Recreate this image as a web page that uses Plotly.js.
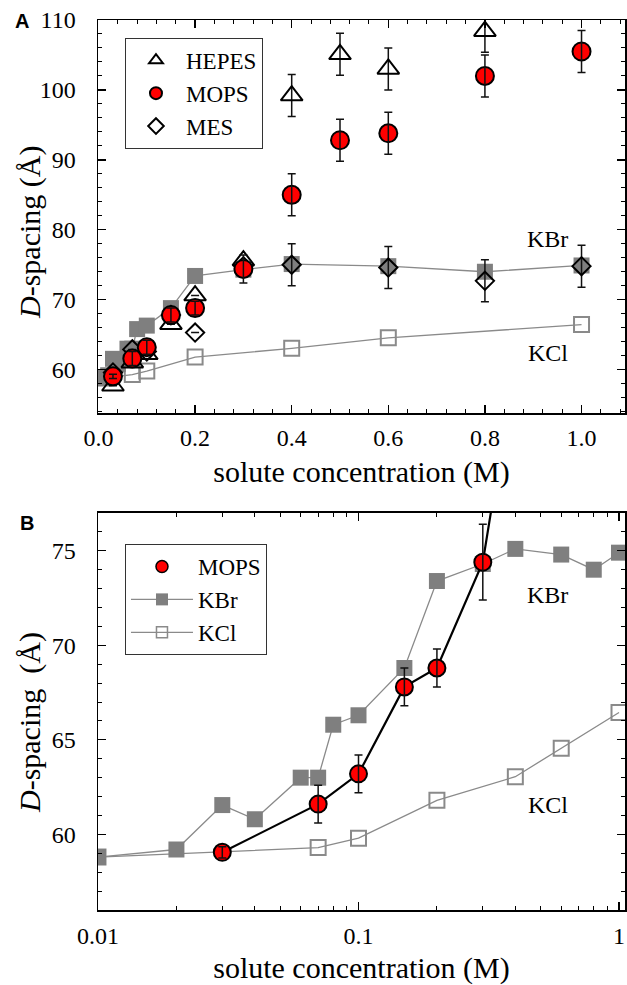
<!DOCTYPE html>
<html>
<head>
<meta charset="utf-8">
<script src="https://cdn.plot.ly/plotly-3.0.1.min.js"></script>
<style>html,body{margin:0;padding:0;background:#fff;}#chart{width:627px;height:985px;}</style>
</head>
<body>
<div id="chart"></div>
<script>
// ---- data ----
const hepesX = [0.03, 0.07, 0.1, 0.15, 0.2, 0.3, 0.4, 0.5, 0.6, 0.8];
const hepesY = [57.7, 61.0, 62.2, 66.5, 70.6, 75.6, 99.2, 105.1, 103.0, 108.4];
const hepesErr = [0, 0, 0, 0, 0, 0, 3, 3, 3, 3];

const mopsX = [0.03, 0.07, 0.1, 0.15, 0.2, 0.3, 0.4, 0.5, 0.6, 0.8, 1.0];
const mopsY = [59.05, 61.6, 63.2, 67.8, 68.8, 74.4, 85.0, 92.8, 93.8, 102.0, 105.5];
const mopsErr = [0.3, 1, 1, 1, 1, 2, 3, 3, 3, 3, 3];

const mesX = [0.03, 0.07, 0.1, 0.15, 0.2, 0.3, 0.4, 0.6, 0.8, 1.0];
const mesY = [59.6, 62.9, 62.6, 67.8, 65.3, 74.8, 75.0, 74.6, 72.7, 74.8];
const mesErr = [0, 0, 0, 0, 0, 0, 3, 3, 3, 3];

const kbrX = [0.01, 0.02, 0.03, 0.04, 0.06, 0.07, 0.08, 0.1, 0.15, 0.2, 0.3, 0.4, 0.6, 0.8, 1.0];
const kbrY = [58.8, 59.2, 61.55, 60.8, 63.0, 63.0, 65.8, 66.3, 68.8, 73.4, 74.3, 75.1, 74.8, 74.0, 74.9];

const kclX = [0.01, 0.07, 0.1, 0.2, 0.4, 0.6, 1.0];
const kclY = [58.8, 59.3, 59.8, 61.8, 63.05, 64.55, 66.45];

const xTicksA = [0, 0.2, 0.4, 0.6, 0.8, 1.0];
const xTicksB = [0.01, 0.1, 1];
const xTickTextB = ['0.01', '0.1', '1'];
const xMinorB = [0.02,0.03,0.04,0.05,0.06,0.07,0.08,0.09,0.2,0.3,0.4,0.5,0.6,0.7,0.8,0.9];

// ---- styling ----
const serif = 'Liberation Serif, Times New Roman, serif';
const grayLine = '#8a8a8a';
const grayFill = '#7f7f7f';
const errStyle = (arr) => ({type: 'data', array: arr, visible: true, color: '#111', thickness: 1.5, width: 4});
const noMark = {color: 'rgba(0,0,0,0)', size: 2, line: {width: 0}};

const traces = [
  // Panel A
  {x: kclX, y: kclY, xaxis: 'x', yaxis: 'y', mode: 'lines+markers', showlegend: false,
   line: {color: grayLine, width: 1.3},
   marker: {symbol: 'square-open', size: 15, color: grayLine, line: {width: 2, color: grayLine}}},
  {x: kbrX, y: kbrY, xaxis: 'x', yaxis: 'y', mode: 'lines+markers', showlegend: false,
   line: {color: grayLine, width: 1.3},
   marker: {symbol: 'square', size: 16, color: grayFill, line: {width: 0}}},
  {x: hepesX, y: hepesY, xaxis: 'x', yaxis: 'y', mode: 'markers', name: 'HEPES', legend: 'legend', legendrank: 1,
   marker: {symbol: 'triangle-up-open', size: 19, color: '#000', line: {width: 2, color: '#000'}},
   error_y: errStyle(hepesErr)},
  {x: mesX, y: mesY, xaxis: 'x', yaxis: 'y', mode: 'markers', name: 'MES', legend: 'legend', legendrank: 3,
   marker: {symbol: 'diamond-open', size: 14, color: '#000', line: {width: 2, color: '#000'}},
   error_y: errStyle(mesErr)},
  {x: mopsX, y: mopsY, xaxis: 'x', yaxis: 'y', mode: 'markers', name: 'MOPS', legend: 'legend', legendrank: 2,
   marker: {symbol: 'circle', size: 18, color: '#ff0000', line: {width: 2, color: '#000'}}},
  {x: mopsX, y: mopsY, xaxis: 'x', yaxis: 'y', mode: 'markers', showlegend: false, hoverinfo: 'skip',
   marker: noMark, error_y: errStyle(mopsErr)},
  // Panel B
  {x: kclX, y: kclY, xaxis: 'x2', yaxis: 'y2', mode: 'lines+markers', showlegend: false,
   line: {color: grayLine, width: 1.3},
   marker: {symbol: 'square-open', size: 15, color: grayLine, line: {width: 2, color: grayLine}}},
  {x: kbrX, y: kbrY, xaxis: 'x2', yaxis: 'y2', mode: 'lines+markers', showlegend: false,
   line: {color: grayLine, width: 1.3},
   marker: {symbol: 'square', size: 16, color: grayFill, line: {width: 0}}},
  {x: mopsX, y: mopsY, xaxis: 'x2', yaxis: 'y2', mode: 'lines', showlegend: false,
   line: {color: '#000', width: 2.2}},
  {x: mopsX, y: mopsY, xaxis: 'x2', yaxis: 'y2', mode: 'markers', showlegend: false,
   marker: {symbol: 'circle', size: 17, color: '#ff0000', line: {width: 2, color: '#000'}}},
  {x: mopsX, y: mopsY, xaxis: 'x2', yaxis: 'y2', mode: 'markers', showlegend: false, hoverinfo: 'skip',
   marker: noMark, error_y: errStyle(mopsErr)},
  // Panel B legend entries (same series, legend-sized symbols)
  {x: [null], y: [null], xaxis: 'x2', yaxis: 'y2', mode: 'markers', name: 'MOPS', legend: 'legend2', legendrank: 1,
   marker: {symbol: 'circle', size: 12, color: '#ff0000', line: {width: 1.5, color: '#000'}}},
  {x: [null], y: [null], xaxis: 'x2', yaxis: 'y2', mode: 'lines+markers', name: 'KBr', legend: 'legend2', legendrank: 2,
   line: {color: grayLine, width: 1.3},
   marker: {symbol: 'square', size: 12, color: grayFill, line: {width: 0}}},
  {x: [null], y: [null], xaxis: 'x2', yaxis: 'y2', mode: 'lines+markers', name: 'KCl', legend: 'legend2', legendrank: 3,
   line: {color: grayLine, width: 1.3},
   marker: {symbol: 'square-open', size: 11, color: grayLine, line: {width: 1.5, color: grayLine}}}
];

const axisCommon = {
  showline: true, linecolor: '#000', linewidth: 1.5, mirror: 'allticks',
  ticks: 'inside', ticklen: 8, tickwidth: 1.3, tickcolor: '#000',
  showgrid: false, zeroline: false,
  tickfont: {family: serif, size: 24, color: '#000'}
};
const minorCommon = {ticks: 'inside', ticklen: 4, tickwidth: 1, tickcolor: '#000', showgrid: false};

const legendCommon = {
  xanchor: 'left', yanchor: 'top', bgcolor: '#fff', bordercolor: '#333', borderwidth: 1,
  font: {family: serif, size: 23, color: '#000'}, traceorder: 'normal'
};

const titleFont = {family: serif, size: 30, color: '#000'};

const layout = {
  width: 627, height: 985,
  margin: {l: 98, r: 2, t: 20, b: 75},
  paper_bgcolor: '#fff', plot_bgcolor: '#fff',
  showlegend: true,
  font: {family: serif, color: '#000'},
  xaxis: Object.assign({}, axisCommon, {
    domain: [0, 1], anchor: 'y', range: [-0.001, 1.09],
    tickmode: 'array', tickvals: xTicksA, tickformat: '.1f',
    minor: Object.assign({}, minorCommon, {tickmode: 'linear', tick0: 0, dtick: 0.04}),
    ticklabelstandoff: 3,
    title: {text: 'solute concentration (M)', font: titleFont, standoff: 10}
  }),
  yaxis: Object.assign({}, axisCommon, {
    domain: [0.5584, 1], anchor: 'x', range: [53.8, 110],
    tickmode: 'linear', tick0: 0, dtick: 10,
    minor: Object.assign({}, minorCommon, {tickmode: 'linear', tick0: 0, dtick: 2}),
    ticklabelstandoff: 16
  }),
  xaxis2: Object.assign({}, axisCommon, {
    domain: [0, 1], anchor: 'y2', type: 'log', range: [-2, 0.023],
    tickmode: 'array', tickvals: xTicksB, ticktext: xTickTextB,
    minor: Object.assign({}, minorCommon, {tickmode: 'array', tickvals: xMinorB}),
    ticklabelstandoff: 4,
    title: {text: 'solute concentration (M)', font: titleFont, standoff: 12}
  }),
  yaxis2: Object.assign({}, axisCommon, {
    domain: [0, 0.4461], anchor: 'x2', range: [56, 77],
    tickmode: 'linear', tick0: 0, dtick: 5,
    minor: Object.assign({}, minorCommon, {tickmode: 'linear', tick0: 0, dtick: 1}),
    ticklabelstandoff: 16
  }),
  legend: Object.assign({}, legendCommon, {x: 0.0512, y: 0.98, itemsizing: 'constant', itemwidth: 50}),
  legend2: Object.assign({}, legendCommon, {x: 0.0512, y: 0.4112, itemsizing: 'trace', itemwidth: 62}),
  annotations: [
    {text: '<b>A</b>', xref: 'paper', yref: 'paper', x: -0.144, y: 0.9989, xanchor: 'center', yanchor: 'middle', showarrow: false,
     font: {family: 'Liberation Sans, Arial, sans-serif', size: 20, color: '#000'}},
    {text: '<b>B</b>', xref: 'paper', yref: 'paper', x: -0.135, y: 0.4348, xanchor: 'center', yanchor: 'middle', showarrow: false,
     font: {family: 'Liberation Sans, Arial, sans-serif', size: 20, color: '#000'}},
    {text: '<i>D</i>-spacing (Å)', xref: 'paper', yref: 'paper', x: -0.129, y: 0.7607, xanchor: 'center', yanchor: 'middle',
     textangle: -90, showarrow: false, font: titleFont},
    {text: '<i>D</i>-spacing  (Å)', xref: 'paper', yref: 'paper', x: -0.129, y: 0.2101, xanchor: 'center', yanchor: 'middle',
     textangle: -90, showarrow: false, font: titleFont},
    {text: 'KBr', xref: 'x', yref: 'y', x: 0.93, y: 78.7, showarrow: false, font: {family: serif, size: 24, color: '#000'}},
    {text: 'KCl', xref: 'x', yref: 'y', x: 0.93, y: 62.4, showarrow: false, font: {family: serif, size: 24, color: '#000'}},
    {text: 'KBr', xref: 'x2', yref: 'y2', x: -0.2726, y: 72.67, showarrow: false, font: {family: serif, size: 24, color: '#000'}},
    {text: 'KCl', xref: 'x2', yref: 'y2', x: -0.2726, y: 61.55, showarrow: false, font: {family: serif, size: 24, color: '#000'}}
  ]
};

Plotly.newPlot('chart', traces, layout, {staticPlot: true, displayModeBar: false});
</script>
</body>
</html>
